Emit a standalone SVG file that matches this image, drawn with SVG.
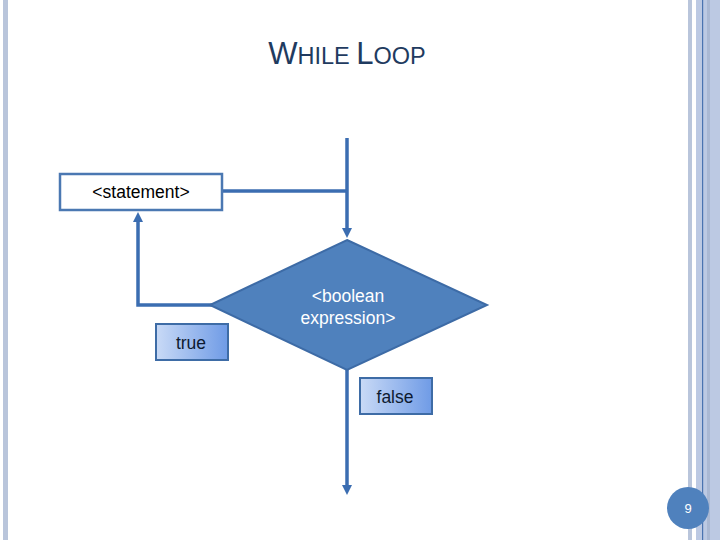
<svg xmlns="http://www.w3.org/2000/svg" width="720" height="540" viewBox="0 0 720 540">
<defs>
<style>
.conn{fill:none;stroke:#3b6db1;stroke-width:3.5}
.lbl{stroke:#3e6ca6;stroke-width:2;fill:url(#g)}
.t{font-family:"Liberation Sans",Arial,sans-serif;font-size:17.5px;text-anchor:middle}
</style>
<linearGradient id="g" x1="0" y1="0" x2="1" y2="0">
<stop offset="0" stop-color="#c9daf6"/>
<stop offset="1" stop-color="#6f9be6"/>
</linearGradient>
<marker id="ah" markerWidth="10" markerHeight="10" refX="6" refY="5" orient="auto" markerUnits="userSpaceOnUse" viewBox="0 0 10 10">
<path d="M0,0 L10,5 L0,10 Z" fill="#3b6db1"/>
</marker>
</defs>
<rect width="720" height="540" fill="#ffffff"/>
<g id="borders">
<rect x="3" y="0" width="5" height="540" fill="#b9c5db"/>
<rect x="688" y="0" width="4" height="540" fill="#b9c5db"/>
<rect x="696" y="0" width="24" height="540" fill="#bcc9e3"/>
<rect x="707" y="0" width="3" height="540" fill="#aab8d3"/>
<rect x="702" y="0" width="1.2" height="540" fill="#4a73b0"/>
</g>
<g id="title">
<text x="347" y="64" text-anchor="middle" font-family="Liberation Sans,Arial,sans-serif" fill="#1f3b60" font-size="23.5"><tspan font-size="31">W</tspan>HILE <tspan font-size="31">L</tspan>OOP</text>
</g>
<g id="connectors">
<path class="conn" d="M347,138 L347,234" marker-end="url(#ah)"/>
<path class="conn" d="M222,191 L347,191"/>
<path class="conn" d="M212,305 L138,305 L138,216" marker-end="url(#ah)"/>
<path class="conn" d="M347,370 L347,491" marker-end="url(#ah)"/>
</g>
<g id="statement">
<rect x="60" y="174" width="162" height="36" fill="#ffffff" stroke="#4b78b2" stroke-width="2.5"/>
<text class="t" x="141" y="198" fill="#000000">&lt;statement&gt;</text>
</g>
<g id="condition">
<polygon points="347,240 487,305 347,370 210,305" fill="#4f81bd" stroke="#3d6ba6" stroke-width="2"/>
<text class="t" x="348" y="302" fill="#ffffff">&lt;boolean</text>
<text class="t" x="348" y="324" fill="#ffffff">expression&gt;</text>
</g>
<g id="true">
<rect class="lbl" x="156" y="324" width="72" height="36"/>
<text class="t" x="191" y="349" fill="#0d1a30">true</text>
</g>
<g id="false">
<rect class="lbl" x="360" y="378" width="72" height="36"/>
<text class="t" x="395" y="403" fill="#0d1a30">false</text>
</g>
<g id="page">
<circle cx="688" cy="508" r="21" fill="#4f81bd"/>
<text x="688" y="513" text-anchor="middle" font-family="Liberation Sans,Arial,sans-serif" font-size="13" fill="#ffffff">9</text>
</g>
</svg>
